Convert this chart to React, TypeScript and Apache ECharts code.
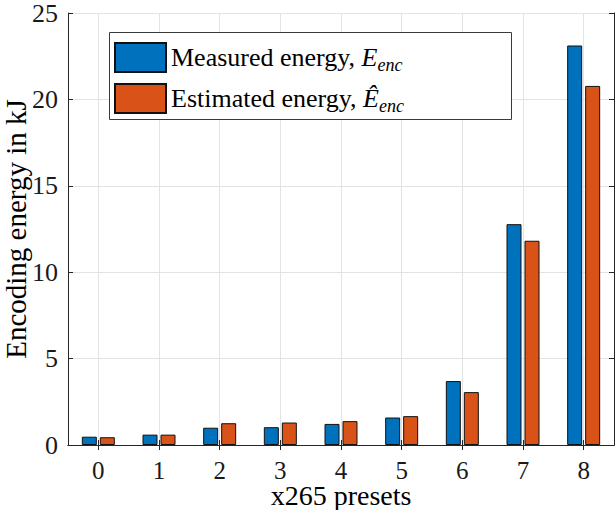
import React, { useEffect, useRef } from 'react';
import * as echarts from 'echarts';

const presets = ['0', '1', '2', '3', '4', '5', '6', '7', '8'];
const measuredEnergy = [0.48, 0.6, 1.0, 1.03, 1.22, 1.59, 3.7, 12.78, 23.12];
const estimatedEnergy = [0.45, 0.6, 1.26, 1.3, 1.38, 1.67, 3.06, 11.82, 20.78];
const seriesNames = ['Measured energy', 'Estimated energy'];
const yMax = 25;
const yStep = 5;

const FONT = '"Liberation Serif", "Times New Roman", serif';
const INK = '#262626';

const App: React.FC = () => {
  const chartRef = useRef<HTMLDivElement>(null);

  useEffect(() => {
    if (!chartRef.current) return;
    const chart = echarts.init(chartRef.current, null, { renderer: 'svg' });

    const xBase = {
      type: 'category' as const,
      data: presets,
      boundaryGap: true,
      axisLine: { show: true, lineStyle: { color: INK, width: 1 } },
      axisTick: { show: true, inside: true, length: 5, alignWithLabel: true, lineStyle: { color: INK } },
    };
    const yBase = {
      type: 'value' as const,
      min: 0,
      max: yMax,
      interval: yStep,
      axisLine: { show: true, lineStyle: { color: INK, width: 1 } },
      axisTick: { show: true, inside: true, length: 5, lineStyle: { color: INK } },
    };

    const option: any = {
      animation: false,
      grid: { left: 68, right: 2, top: 13, bottom: 65, containLabel: false, outerBoundsMode: 'none' },
      // legend frame (MATLAB leaves extra room after the LaTeX text)
      graphic: [
        {
          type: 'rect',
          left: 109,
          top: 32,
          z: 3,
          shape: { width: 402, height: 87 },
          style: { fill: '#ffffff', stroke: '#3a3a3a', lineWidth: 1 },
        },
      ],
      legend: {
        data: seriesNames,
        orient: 'vertical',
        left: 109,
        top: 32,
        z: 5,
        icon: 'rect',
        itemWidth: 51,
        itemHeight: 29,
        itemGap: 9,
        padding: [10, 5, 8, 5],
        backgroundColor: 'transparent',
        borderWidth: 0,
        formatter: (name: string) =>
          name === seriesNames[0]
            ? `{t|${name}, }{i|E}{s|enc}`
            : `{t|${name}, }{i|\u00CA}{s|enc}`,
        textStyle: {
          fontFamily: FONT,
          fontSize: 26,
          color: '#000',
          rich: {
            t: { fontFamily: FONT, fontSize: 26, color: '#000', lineHeight: 29 },
            i: { fontFamily: FONT, fontSize: 26, fontStyle: 'italic', color: '#000', lineHeight: 29 },
            s: {
              fontFamily: FONT,
              fontSize: 18,
              fontStyle: 'italic',
              color: '#000',
              lineHeight: 16,
              verticalAlign: 'top',
              padding: [13, 0, 0, 0],
            },
          },
        },
      },
      xAxis: [
        {
          ...xBase,
          position: 'bottom',
          name: 'x265 presets',
          nameLocation: 'middle',
          nameGap: 39,
          nameMoveOverlap: false,
          nameTextStyle: { fontFamily: FONT, fontSize: 28, color: '#000', lineHeight: 22 },
          axisLabel: { fontFamily: FONT, fontSize: 25, color: '#1a1a1a', margin: 15, lineHeight: 20 },
          splitLine: { show: true, alignWithLabel: true, lineStyle: { color: '#e3e3e3', width: 1 } },
        },
        {
          ...xBase,
          position: 'top',
          axisLabel: { show: false },
          splitLine: { show: false },
        },
      ],
      yAxis: [
        {
          ...yBase,
          position: 'left',
          name: 'Encoding energy in kJ',
          nameLocation: 'middle',
          nameGap: 38,
          nameMoveOverlap: false,
          nameTextStyle: { fontFamily: FONT, fontSize: 29, color: '#000' },
          axisLabel: { fontFamily: FONT, fontSize: 26, color: '#1a1a1a', margin: 10 },
          splitLine: { show: true, lineStyle: { color: '#e3e3e3', width: 1 } },
        },
        {
          ...yBase,
          position: 'right',
          axisLabel: { show: false },
          splitLine: { show: false },
        },
      ],
      series: [
        {
          name: seriesNames[0],
          type: 'bar',
          data: measuredEnergy,
          barWidth: 15,
          barGap: '20%',
          itemStyle: { color: '#0072BD', borderColor: '#111', borderWidth: 1 },
        },
        {
          name: seriesNames[1],
          type: 'bar',
          data: estimatedEnergy,
          barWidth: 15,
          barGap: '20%',
          itemStyle: { color: '#D95319', borderColor: '#111', borderWidth: 1 },
        },
      ],
    };

    chart.setOption(option);
    return () => {
      chart.dispose();
    };
  }, []);

  return (
    <div
      ref={chartRef}
      style={{ position: 'fixed', left: 0, top: 0, width: 616, height: 510, background: '#fff' }}
    />
  );
};

export default App;
